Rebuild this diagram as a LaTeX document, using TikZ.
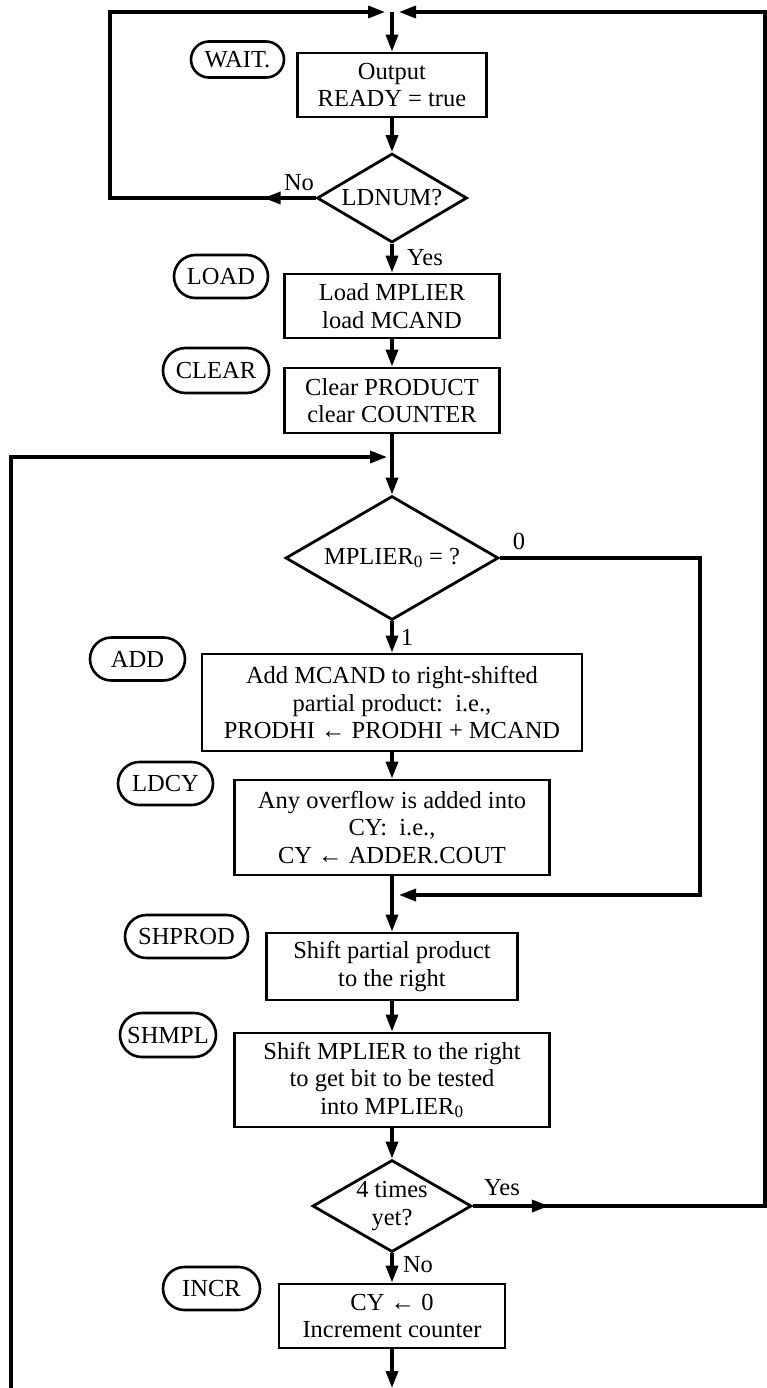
\documentclass[tikz,border=0pt]{standalone}
\usepackage{fontspec}
\setmainfont{Liberation Serif}
\usetikzlibrary{arrows.meta,shapes.geometric,shapes.misc,decorations.markings}
\begin{document}
\begin{tikzpicture}[x=1pt,y=-1pt,
  >={Triangle[length=17pt,width=12pt]},
  every node/.style={font=\fontsize{24.5}{27.5}\selectfont},
  stepbox/.style={draw,line width=2.8pt,rectangle,align=center,inner sep=0pt},
  state/.style={draw,line width=2.6pt,rounded rectangle,inner sep=0pt,minimum height=43pt},
  test/.style={draw,line width=2.8pt,diamond,shape aspect=1.7,inner sep=0pt,align=center},
  flow/.style={line width=3.4pt},
  midarrow/.style={postaction={decorate,decoration={markings,mark=at position #1 with {\arrow{>}}}}},
  tag/.style={inner sep=0pt}
]
\useasboundingbox[fill=white] (0,0) rectangle (767,1388);

% state names
\node[state,minimum width=93pt,minimum height=36pt] (sWait) at (237.5,59.5) {WAIT.};
\node[state,minimum width=94pt] (sLoad) at (221,276.5) {LOAD};
\node[state,minimum width=106pt,minimum height=45pt] (sClear) at (216,370.5) {CLEAR};
\node[state,minimum width=95pt] (sAdd) at (137.5,659) {ADD};
\node[state,minimum width=95pt] (sLdcy) at (165.5,783.5) {LDCY};
\node[state,minimum width=123pt] (sShprod) at (186.5,936.5) {SHPROD};
\node[state,minimum width=96pt,minimum height=44pt] (sShmpl) at (168,1035) {SHMPL};
\node[state,minimum width=97pt] (sIncr) at (211.5,1288.5) {INCR};

% operation boxes and tests
\node[stepbox,minimum width=189pt,minimum height=64pt] (out) at (392,85) {Output\\READY = true};
\node[test,minimum width=150pt,minimum height=89pt] (ldnum) at (392,198) {LDNUM?};
\node[stepbox,minimum width=215pt,minimum height=64pt] (load) at (392,306) {Load MPLIER\\load MCAND};
\node[stepbox,minimum width=215pt,minimum height=65pt] (clear) at (392,400.5) {Clear PRODUCT\\clear COUNTER};
\node[test,minimum width=213pt,minimum height=124pt] (mpl) at (392,558) {MPLIER\textsubscript{0} = ?};
\node[stepbox,minimum width=380pt,minimum height=97pt] (add) at (392,702.5) {Add MCAND to right-shifted\\partial product:\ \ i.e.,\\PRODHI ← PRODHI + MCAND};
\node[stepbox,minimum width=315pt,minimum height=95pt] (ldcy) at (392,827.5) {Any overflow is added into\\CY:\ \ i.e.,\\CY ← ADDER.COUT};
\node[stepbox,minimum width=251pt,minimum height=67pt] (shprod) at (392,966.5) {Shift partial product\\to the right};
\node[stepbox,minimum width=315pt,minimum height=94pt] (shmpl) at (392,1080) {Shift MPLIER to the right\\to get bit to be tested\\into MPLIER\textsubscript{0}};
\node[test,minimum width=159pt,minimum height=92pt] (times) at (392,1206) {4 times\\yet?};
\node[stepbox,minimum width=226pt,minimum height=64pt] (incr) at (392,1316) {CY ← 0\\Increment counter};

% branch labels
\node[tag] (lNoA) at (299,183) {No};
\node[tag] (lYesA) at (425,258) {Yes};
\node[tag] (lZero) at (519,541) {0};
\node[tag] (lOne) at (407,637) {1};
\node[tag] (lYesB) at (502,1188) {Yes};
\node[tag] (lNoB) at (418,1265) {No};

% route points
\coordinate (j0) at (392,12);
\coordinate (tl) at (110,12);
\coordinate (tr) at (765,12);
\coordinate (yesCorner) at (765,1206);
\coordinate (r1) at (700,558);
\coordinate (r2) at (700,895);
\coordinate (j2) at (392,895);
\coordinate (j1) at (392,457);
\coordinate (l1) at (11,457);
\coordinate (bl) at (11,1388);
\coordinate (bot) at (392,1388);

% main flow
\draw[flow,->] (j0) -- (out.north);
\draw[flow,->] (out.south) -- (ldnum.north);
\draw[flow,->] (ldnum.south) -- (load.north);
\draw[flow,->] (load.south) -- (clear.north);
\draw[flow,->] (clear.south) -- (mpl.north);
\draw[flow,->] (mpl.south) -- (add.north);
\draw[flow,->] (add.south) -- (ldcy.north);
\draw[flow,->] (ldcy.south) -- (shprod.north);
\draw[flow,->] (shprod.south) -- (shmpl.north);
\draw[flow,->] (shmpl.south) -- (times.north);
\draw[flow,->] (times.south) -- (incr.north);
\draw[flow,->] (incr.south) -- (bot);

% loops
\draw[flow,->,shorten >=7pt,midarrow=52pt,line join=miter] (ldnum.west) -- (ldnum.west -| tl) -- (tl) -- (j0);
\draw[flow,->,shorten >=7pt,midarrow=76pt,line join=miter] (times.east) -- (yesCorner) -- (tr) -- (j0);
\draw[flow,->,shorten >=7pt,line join=miter] (mpl.east) -- (r1) -- (r2) -- (j2);
\draw[flow,->,shorten >=5pt,line join=miter] (bl) -- (l1) -- (j1);
\end{tikzpicture}
\end{document}
